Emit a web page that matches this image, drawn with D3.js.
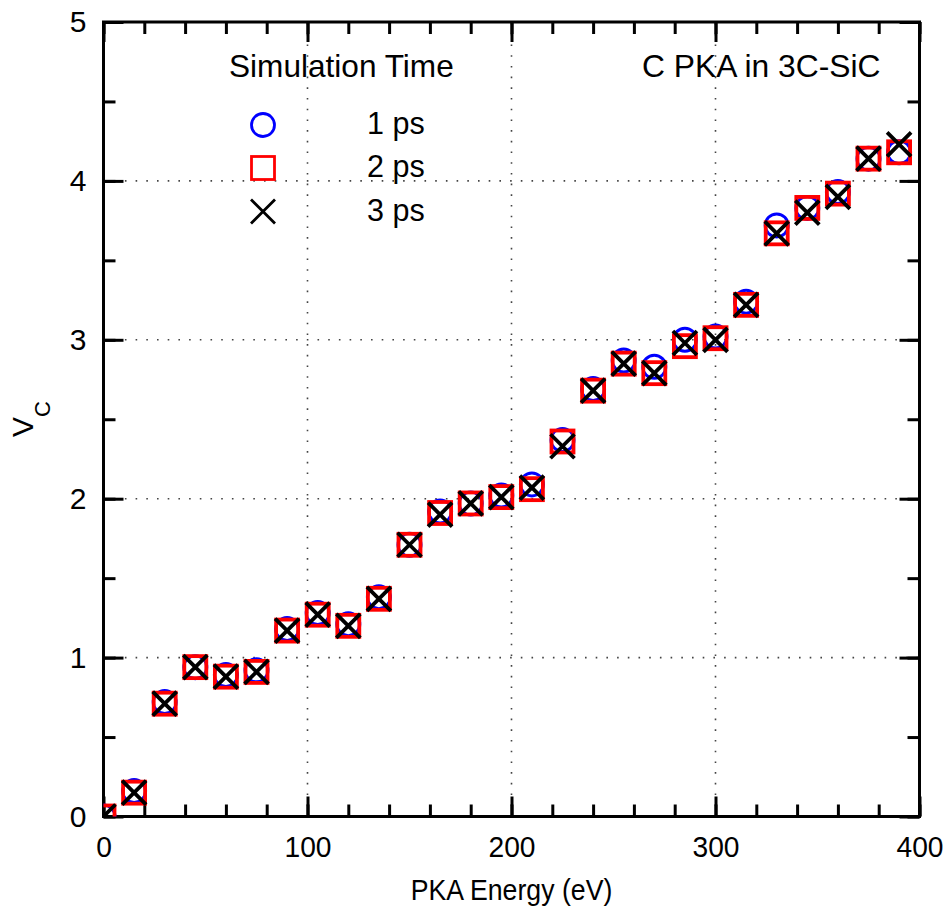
<!DOCTYPE html>
<html>
<head>
<meta charset="utf-8">
<script src="https://cdn.jsdelivr.net/npm/d3@7"></script>
<style>
  html, body { margin: 0; padding: 0; background: #fff; }
  svg { display: block; }
  text { font-family: "Liberation Sans", Arial, Helvetica, sans-serif; fill: #000; }
</style>
</head>
<body>
<svg id="chart" width="950" height="907"></svg>
<script>
// ---- data ----
const energies = [0, 15, 30, 45, 60, 75, 90, 105, 120, 135, 150, 165, 180, 195, 210,
                  225, 240, 255, 270, 285, 300, 315, 330, 345, 360, 375, 390];
const vc1ps = [0, 0.16, 0.72, 0.94, 0.89, 0.92, 1.18, 1.28, 1.21, 1.38, 1.71, 1.92, 1.97, 2.02, 2.09,
               2.37, 2.69, 2.87, 2.83, 3.00, 3.02, 3.24, 3.72, 3.83, 3.93, 4.14, 4.18];
const vc2ps = [0, 0.15, 0.71, 0.94, 0.88, 0.91, 1.17, 1.27, 1.20, 1.37, 1.71, 1.91, 1.97, 2.01, 2.06,
               2.36, 2.68, 2.85, 2.79, 2.96, 3.01, 3.22, 3.67, 3.83, 3.92, 4.14, 4.18];
const vc3ps = [0, 0.15, 0.71, 0.94, 0.88, 0.91, 1.17, 1.27, 1.20, 1.37, 1.71, 1.90, 1.97, 2.01, 2.07,
               2.33, 2.68, 2.85, 2.79, 2.98, 3.00, 3.22, 3.67, 3.80, 3.90, 4.14, 4.23];
const seriesLabels = ["1 ps", "2 ps", "3 ps"];
const xTicks = [0, 100, 200, 300, 400];
const yTicks = [0, 1, 2, 3, 4, 5];
const legendTitle = "Simulation Time";
const annotation = "C PKA in 3C-SiC";
const xTitle = "PKA Energy (eV)";

// ---- layout ----
const L = 103.5, R = 919.5, T = 22, B = 816.5;
const svg = d3.select("#chart");
const x = d3.scaleLinear().domain([0, 400]).range([L, R]);
const y = d3.scaleLinear().domain([0, 5]).range([B, T]);

const FONT = 30;

// clip
svg.append("clipPath").attr("id", "plotclip")
  .append("rect").attr("x", L).attr("y", T).attr("width", R - L).attr("height", B - T);

// grid (dotted)
const grid = svg.append("g").attr("stroke", "#444").attr("stroke-width", 1.6)
  .attr("stroke-dasharray", "1.6,9.1");
[100, 200, 300].forEach(v => grid.append("line")
  .attr("x1", x(v)).attr("x2", x(v)).attr("y1", B).attr("y2", T));
[1, 2, 3, 4].forEach(v => grid.append("line")
  .attr("y1", y(v)).attr("y2", y(v)).attr("x1", L).attr("x2", R));

// axes
function styleAxis(g) {
  g.select(".domain").remove();
  g.selectAll(".tick line").attr("stroke", "#000").attr("stroke-width", 3);
  g.selectAll(".tick text").style("font-size", FONT + "px")
    .style("font-family", '"Liberation Sans", Arial, sans-serif').attr("fill", "#000");
}
const minorX = d3.range(0, 401, 20);
const minorY = d3.range(0, 5.01, 0.5);

// bottom
svg.append("g").attr("transform", `translate(0,${B})`)
  .call(d3.axisBottom(x).tickValues(minorX).tickSize(-12).tickFormat(""))
  .call(styleAxis);
svg.append("g").attr("transform", `translate(0,${B})`)
  .call(d3.axisBottom(x).tickValues(xTicks).tickSize(-20).tickPadding(19).tickFormat(d3.format("d")))
  .call(styleAxis)
  .call(g => g.selectAll(".tick text").attr("transform", "scale(0.94,1)"));
// top
svg.append("g").attr("transform", `translate(0,${T})`)
  .call(d3.axisTop(x).tickValues(minorX).tickSize(-12).tickFormat(""))
  .call(styleAxis);
svg.append("g").attr("transform", `translate(0,${T})`)
  .call(d3.axisTop(x).tickValues(xTicks).tickSize(-20).tickFormat(""))
  .call(styleAxis);
// left
svg.append("g").attr("transform", `translate(${L},0)`)
  .call(d3.axisLeft(y).tickValues(minorY).tickSize(-12).tickFormat(""))
  .call(styleAxis);
svg.append("g").attr("transform", `translate(${L},0)`)
  .call(d3.axisLeft(y).tickValues(yTicks).tickSize(-20).tickPadding(17).tickFormat(d3.format("d")))
  .call(styleAxis);
// right
svg.append("g").attr("transform", `translate(${R},0)`)
  .call(d3.axisRight(y).tickValues(minorY).tickSize(-12).tickFormat(""))
  .call(styleAxis);
svg.append("g").attr("transform", `translate(${R},0)`)
  .call(d3.axisRight(y).tickValues(yTicks).tickSize(-20).tickFormat(""))
  .call(styleAxis);

// frame
svg.append("rect").attr("x", L).attr("y", T).attr("width", R - L).attr("height", B - T)
  .attr("fill", "none").attr("stroke", "#000").attr("stroke-width", 3);

// markers
const pts = svg.append("g").attr("clip-path", "url(#plotclip)");
const d1 = energies.map((e, i) => [e, vc1ps[i]]);
const d2 = energies.map((e, i) => [e, vc2ps[i]]);
const d3s = energies.map((e, i) => [e, vc3ps[i]]);

pts.append("g").selectAll("circle").data(d1).join("circle")
  .attr("cx", d => x(d[0])).attr("cy", d => y(d[1])).attr("r", 11.5)
  .attr("fill", "none").attr("stroke", "#0000ff").attr("stroke-width", 3);
const sq = 22;
pts.append("g").selectAll("rect").data(d2).join("rect")
  .attr("x", d => x(d[0]) - sq / 2).attr("y", d => y(d[1]) - sq / 2)
  .attr("width", sq).attr("height", sq)
  .attr("fill", "none").attr("stroke", "#ff0000").attr("stroke-width", 3.8);
const xs = 12;
pts.append("g").selectAll("path").data(d3s).join("path")
  .attr("d", d => {
    const cx = x(d[0]), cy = y(d[1]);
    return `M${cx - xs},${cy - xs}L${cx + xs},${cy + xs}M${cx - xs},${cy + xs}L${cx + xs},${cy - xs}`;
  })
  .attr("fill", "none").attr("stroke", "#000").attr("stroke-width", 3.8);

// legend
const lg = svg.append("g");
lg.append("text").attr("x", 229).attr("y", 77).style("font-size", "31.6px").text(legendTitle);
const lx = 263, ly = [125, 168, 211.5];
lg.append("circle").attr("cx", lx).attr("cy", ly[0]).attr("r", 11.5)
  .attr("fill", "none").attr("stroke", "#0000ff").attr("stroke-width", 2.8);
lg.append("rect").attr("x", lx - 11.5).attr("y", ly[1] - 11.5).attr("width", 23).attr("height", 23)
  .attr("fill", "none").attr("stroke", "#ff0000").attr("stroke-width", 2.8);
lg.append("path").attr("d", `M${lx - 12},${ly[2] - 12}L${lx + 12},${ly[2] + 12}M${lx - 12},${ly[2] + 12}L${lx + 12},${ly[2] - 12}`)
  .attr("stroke", "#000").attr("stroke-width", 2.8);
seriesLabels.forEach((s, i) => {
  lg.append("text").attr("x", 367).attr("y", ly[i] + 9).style("font-size", "30.5px").text(s);
});

// annotation
svg.append("text").attr("x", 642).attr("y", 77).style("font-size", "31.8px").text(annotation);

// axis titles
svg.append("text").attr("transform", `translate(${(L + R) / 2},900) scale(0.92,1)`)
  .attr("text-anchor", "middle")
  .style("font-size", "29px").text(xTitle);
const yl = svg.append("text").attr("transform", "translate(33,437) rotate(-90)")
  .style("font-size", "30px");
yl.append("tspan").text("V");
yl.append("tspan").attr("dy", 17).style("font-size", "22px").text("C");
</script>
</body>
</html>
